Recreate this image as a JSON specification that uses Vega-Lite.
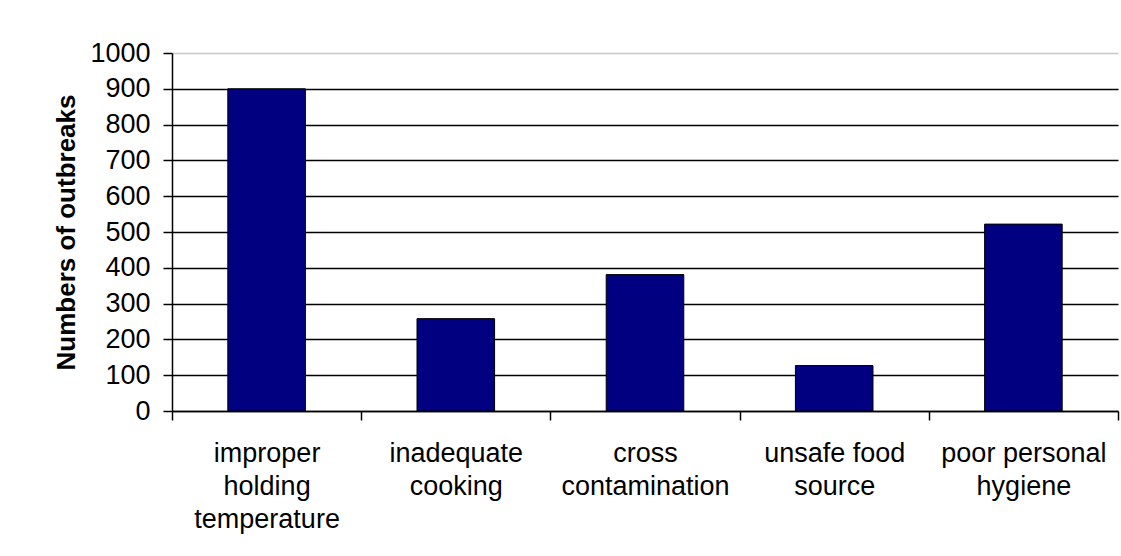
{
  "$schema": "https://vega.github.io/schema/vega-lite/v6.json",
  "autosize": {"type": "none"},
  "width": 946,
  "height": 358,
  "padding": {"left": 172, "top": 53, "right": 3, "bottom": 145},
  "background": "white",
  "config": {
    "view": {"stroke": null},
    "font": "Liberation Sans",
    "axis": {"labelFont": "Liberation Sans", "titleFont": "Liberation Sans", "labelColor": "black", "titleColor": "black", "domainColor": "black", "tickColor": "black"}
  },
  "data": {
    "values": [
      {"cause": "improper holding temperature", "outbreaks": 900},
      {"cause": "inadequate cooking", "outbreaks": 258},
      {"cause": "cross contamination", "outbreaks": 381},
      {"cause": "unsafe food source", "outbreaks": 127},
      {"cause": "poor personal hygiene", "outbreaks": 522}
    ]
  },
  "mark": {"type": "bar", "color": "#000080", "stroke": "black", "strokeWidth": 1, "width": {"band": 0.41}},
  "encoding": {
    "x": {
      "field": "cause",
      "type": "nominal",
      "sort": null,
      "scale": {"paddingInner": 0, "paddingOuter": 0},
      "axis": {
        "title": null,
        "labelAngle": 0,
        "labelFontSize": 27,
        "labelLineHeight": 33,
        "labelPadding": 20,
        "labelBaseline": "top",
        "tickBand": "extent",
        "tickSize": 9,
        "domainWidth": 1.5,
        "tickWidth": 1.5,
        "labelExpr": "datum.value == 'improper holding temperature' ? ['improper', 'holding', 'temperature'] : datum.value == 'inadequate cooking' ? ['inadequate', 'cooking'] : datum.value == 'cross contamination' ? ['cross', 'contamination'] : datum.value == 'unsafe food source' ? ['unsafe food', 'source'] : datum.value == 'poor personal hygiene' ? ['poor personal', 'hygiene'] : ''"
      }
    },
    "y": {
      "field": "outbreaks",
      "type": "quantitative",
      "scale": {"domain": [0, 1000]},
      "axis": {
        "title": "Numbers of outbreaks",
        "titleFontSize": 26,
        "titleFontWeight": "bold",
        "titlePadding": 10,
        "values": [0, 100, 200, 300, 400, 500, 600, 700, 800, 900, 1000],
        "format": "d",
        "labelFontSize": 27,
        "labelPadding": 13,
        "tickSize": 9,
        "tickWidth": 1.5,
        "domainWidth": 1.5,
        "grid": true,
        "gridColor": {"condition": {"test": "datum.value == 1000", "value": "#c8c8c8"}, "value": "black"},
        "gridWidth": 1.5,
        "gridOpacity": 1
      }
    }
  }
}
